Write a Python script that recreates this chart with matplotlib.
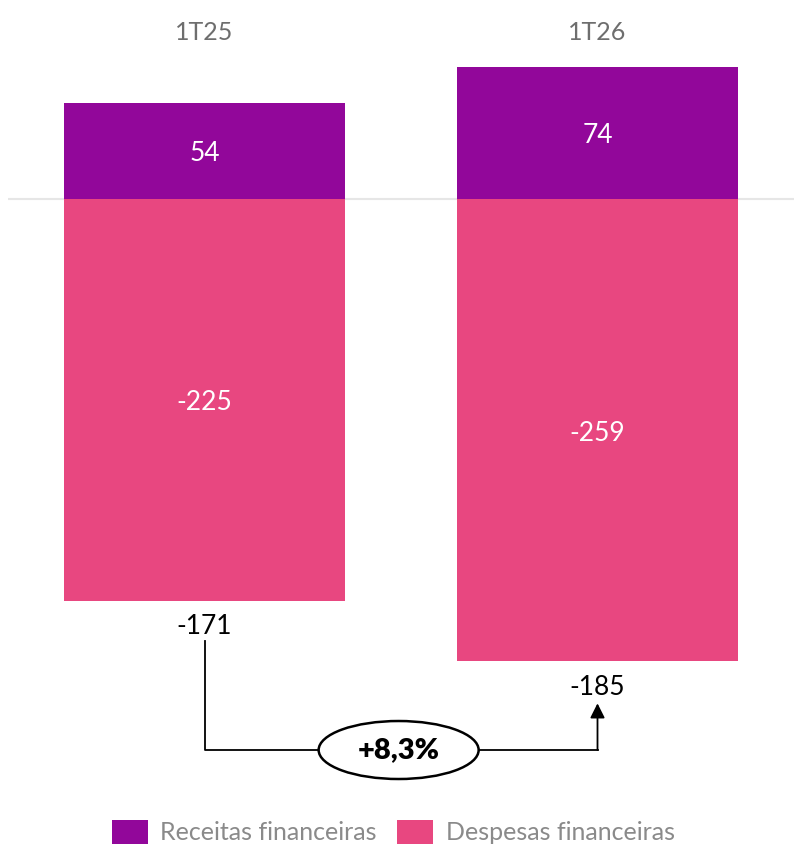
import matplotlib.pyplot as plt
from matplotlib.patches import Ellipse

periods = ["1T25", "1T26"]
receitas = [54, 74]
despesas = [-225, -259]
variacao = "+8,3%"

c_rec = "#92079A"
c_desp = "#E84780"

plt.rcParams['font.family'] = ['Lato', 'DejaVu Sans']

fig = plt.figure(figsize=(7.94, 8.5), dpi=100)
ax = fig.add_axes([8 / 794, 0, 786 / 794, 1])
ax.set_xlim(-0.5, 1.5)
ax.set_ylim(-364.7, 111.5)
ax.axis("off")

x = range(len(periods))
b1 = ax.bar(x, receitas, width=0.7125, color=c_rec, label="Receitas financeiras", zorder=2)
b2 = ax.bar(x, despesas, width=0.7125, color=c_desp, label="Despesas financeiras", zorder=2)
ax.axhline(0, color="#E6E6E6", lw=1.5, zorder=1)

px = 1 / 1.785  # data units per pixel
off = 3 * px  # small nudge so digits look centred
net = [r + d for r, d in zip(receitas, despesas)]
for i in x:
    ax.text(i, 167 * px, periods[i], ha="center", va="center", fontsize=18,
            color="#6E6E6E")
    ax.text(i, receitas[i] / 2 - off, str(receitas[i]), ha="center", va="center",
            fontsize=19, color="white")
    ax.text(i, despesas[i] / 2 - off, str(despesas[i]), ha="center", va="center",
            fontsize=19, color="white")
    ax.text(i, despesas[i] - 26 * px, str(net[i]), ha="center", va="center",
            fontsize=19, color="black")

# connector between net results
y_line = -551 * px
ax.plot([0, 0, 1], [despesas[0] - 40 * px, y_line, y_line], color="black", lw=1.3, zorder=3)
ax.annotate("", xy=(1, despesas[1] - 42 * px), xytext=(1, y_line),
            arrowprops=dict(arrowstyle="-|>", color="black", lw=1.3, mutation_scale=22,
                            shrinkA=0, shrinkB=0), zorder=3)
ell = Ellipse((0.494, y_line), 160 / 393, 58 * px, facecolor="white",
              edgecolor="black", lw=1.8, zorder=4)
ax.add_patch(ell)
ax.text(0.494, y_line, variacao, ha="center", va="center", fontsize=21,
        fontweight="heavy", zorder=5)

leg = fig.legend(handles=[b1, b2], loc="lower center", bbox_to_anchor=(0.495, -0.02),
                 ncol=2, frameon=False, fontsize=18, handlelength=1.45, handleheight=1.1,
                 handletextpad=0.5, columnspacing=0.8)
for t in leg.get_texts():
    t.set_color("#8A8A8A")

fig.savefig("out.png", dpi=100)
